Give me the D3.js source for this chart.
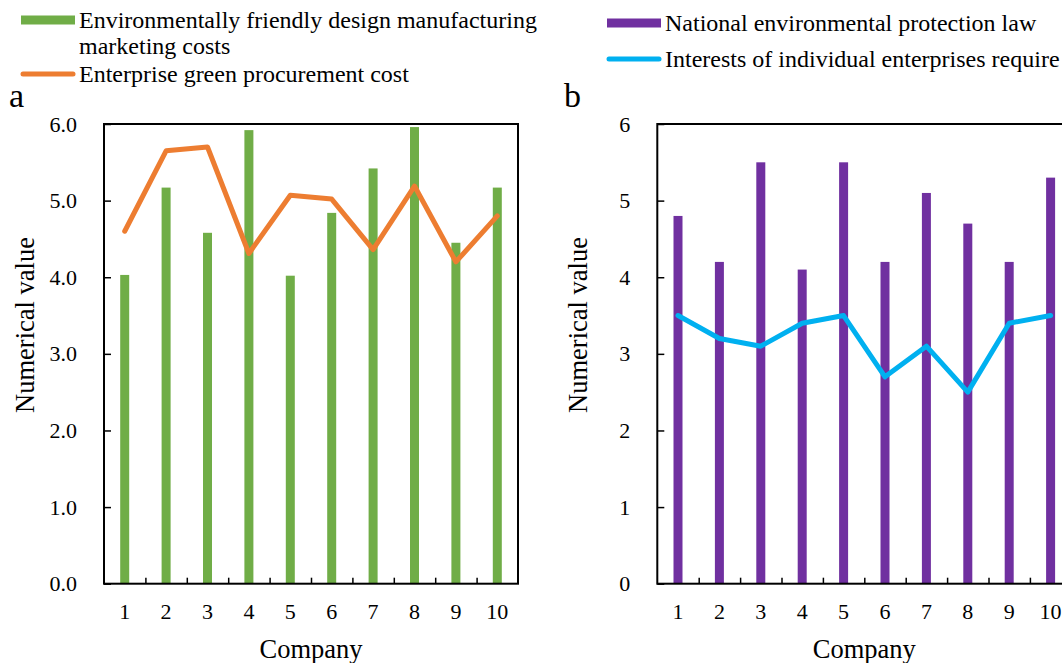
<!DOCTYPE html>
<html>
<head>
<meta charset="utf-8">
<script src="https://cdn.jsdelivr.net/npm/d3@7"></script>
<style>
  body { margin: 0; background: #fff; }
  svg text { font-family: "Liberation Serif", "Times New Roman", serif; }
  .domain { display: none; }
</style>
</head>
<body>
<script>
// categories and values
const companies = ["1", "2", "3", "4", "5", "6", "7", "8", "9", "10"];

// panel a
const designCosts = [4.03, 5.17, 4.58, 5.92, 4.02, 4.84, 5.42, 5.96, 4.45, 5.17];
const procurementCost = [4.6, 5.65, 5.7, 4.31, 5.07, 5.02, 4.36, 5.19, 4.2, 4.8];

// panel b
const protectionLaw = [4.8, 4.2, 5.5, 4.1, 5.5, 4.2, 5.1, 4.7, 4.2, 5.3];
const enterpriseInterests = [3.5, 3.2, 3.1, 3.4, 3.5, 2.7, 3.1, 2.5, 3.4, 3.5];

const yTicks = [0, 1, 2, 3, 4, 5, 6];

const width = 1062, height = 663;
const svg = d3.select("body").append("svg")
  .attr("width", width)
  .attr("height", height);

const plotW = 414, plotTop = 124, plotBottom = 583.7;

function drawPanel(opts) {
  const g = svg.append("g").attr("transform", "translate(" + opts.left + ",0)");

  const x = d3.scaleBand().domain(companies).range([0, plotW]);
  const y = d3.scaleLinear().domain([0, 6]).range([plotBottom, plotTop]);

  // bars
  g.append("g")
    .selectAll("rect")
    .data(opts.bars)
    .enter()
    .append("rect")
    .attr("x", (d, i) => x(companies[i]) + x.bandwidth() / 2 - 4.5)
    .attr("y", d => y(d))
    .attr("width", 9)
    .attr("height", d => y(0) - y(d))
    .attr("fill", opts.barColor);

  // line
  const line = d3.line()
    .x((d, i) => x(companies[i]) + x.bandwidth() / 2)
    .y(d => y(d));
  g.append("path")
    .datum(opts.line)
    .attr("d", line)
    .attr("fill", "none")
    .attr("stroke", opts.lineColor)
    .attr("stroke-width", 5)
    .attr("stroke-linejoin", "round")
    .attr("stroke-linecap", "round");

  // y axis, ticks pointing inward
  const yAxis = d3.axisLeft(y)
    .tickValues(yTicks)
    .tickFormat(opts.yFormat)
    .tickSize(-7)
    .tickPadding(27);
  g.append("g").call(yAxis)
    .call(s => s.selectAll("text").attr("font-size", 22).attr("fill", "#000"))
    .call(s => s.selectAll("line").attr("stroke", "#000").attr("stroke-width", 1.5));

  // x axis labels
  const xAxis = d3.axisBottom(x).tickSize(0).tickPadding(20);
  g.append("g").attr("transform", "translate(0," + plotBottom + ")").call(xAxis)
    .call(s => s.selectAll("text").attr("font-size", 22).attr("fill", "#000"));

  // x tick marks between categories, pointing inward
  const xb = d3.scaleLinear().domain([0, companies.length]).range([0, plotW]);
  const xTickAxis = d3.axisBottom(xb)
    .tickValues(d3.range(1, companies.length))
    .tickFormat("")
    .tickSize(-6);
  g.append("g").attr("transform", "translate(0," + plotBottom + ")").call(xTickAxis)
    .call(s => s.selectAll("line").attr("stroke", "#000").attr("stroke-width", 1.5));

  // frame
  g.append("rect")
    .attr("x", 0).attr("y", plotTop)
    .attr("width", plotW).attr("height", plotBottom - plotTop)
    .attr("fill", "none").attr("stroke", "#000").attr("stroke-width", 2);

  // axis titles
  g.append("text")
    .attr("transform", "translate(" + (-70) + ",325) rotate(-90)")
    .attr("text-anchor", "middle")
    .attr("font-size", 26.5)
    .text("Numerical value");
  g.append("text")
    .attr("x", plotW / 2).attr("y", 658)
    .attr("text-anchor", "middle")
    .attr("font-size", 26.5)
    .text("Company");

  // panel letter
  svg.append("text")
    .attr("x", opts.letterX).attr("y", 107)
    .attr("font-size", 34)
    .text(opts.letter);

  // legend
  const lg = svg.append("g").attr("font-size", 24);
  lg.append("rect")
    .attr("x", opts.legX).attr("y", opts.legY1 - 4.5)
    .attr("width", 54).attr("height", 9)
    .attr("fill", opts.barColor);
  opts.barLabel.forEach((t, i) => {
    lg.append("text")
      .attr("x", opts.legX + 58).attr("y", opts.legY1 + 8 + i * 26)
      .text(t);
  });
  lg.append("line")
    .attr("x1", opts.legX + 2).attr("x2", opts.legX + 52)
    .attr("y1", opts.legY2).attr("y2", opts.legY2)
    .attr("stroke", opts.lineColor).attr("stroke-width", 5)
    .attr("stroke-linecap", "round");
  lg.append("text")
    .attr("x", opts.legX + 58).attr("y", opts.legY2 + 8)
    .text(opts.lineLabel);
}

drawPanel({
  left: 104,
  bars: designCosts,
  line: procurementCost,
  barColor: "#70AD47",
  lineColor: "#ED7D31",
  yFormat: d3.format(".1f"),
  letter: "a", letterX: 9,
  legX: 21, legY1: 20, legY2: 74,
  barLabel: ["Environmentally friendly design manufacturing", "marketing costs"],
  lineLabel: "Enterprise green procurement cost"
});

drawPanel({
  left: 657.3,
  bars: protectionLaw,
  line: enterpriseInterests,
  barColor: "#7030A0",
  lineColor: "#00B0F0",
  yFormat: d3.format("d"),
  letter: "b", letterX: 564,
  legX: 607, legY1: 23, legY2: 59,
  barLabel: ["National environmental protection law"],
  lineLabel: "Interests of individual enterprises require"
});
</script>
</body>
</html>
